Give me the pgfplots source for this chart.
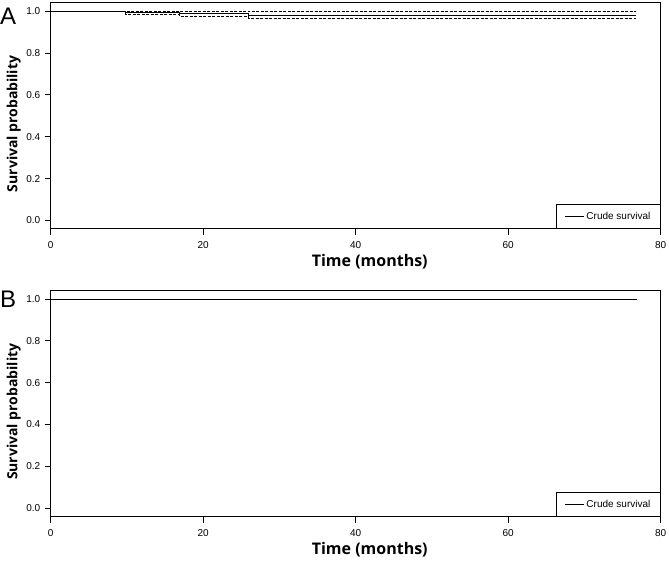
\documentclass[border=0pt]{standalone}
\usepackage{fontspec}
\setmainfont{Liberation Sans}
\newfontfamily\labfont{Open Sans}
\usepackage{pgfplots}
\pgfplotsset{compat=1.18}

\pgfplotsset{
  kmaxis/.style={
    scale only axis, width=610pt, height=226pt,
    xmin=0, xmax=80, ymin=-0.04, ymax=1.04,
    xtick={0,20,...,80}, ytick={0,0.2,...,1.0},
    yticklabel style={/pgf/number format/fixed,/pgf/number format/fixed zerofill,/pgf/number format/precision=1,xshift=-1pt},
    xticklabel style={yshift=-3pt},
    /pgf/number format/assume math mode=true,
    tick label style={font=\fontsize{10}{12}\selectfont},
    tick align=outside, major tick length=6pt,
    xtick pos=bottom, ytick pos=left,
    axis line style={black, line width=0.8pt},
    tick style={black, line width=0.8pt},
    xlabel={Time (months)}, ylabel={Survival probability},
    xlabel style={at={(axis description cs:0.523,-0.147)}, anchor=center,
      font=\labfont\bfseries\fontsize{16}{18}\selectfont},
    ylabel style={at={(axis description cs:-0.0607,0.464)}, anchor=center,
      font=\labfont\bfseries\fontsize{14}{16}\selectfont},
    legend style={at={(1,0)}, anchor=south east, draw=black, line width=0.6pt,
      font=\fontsize{10}{12}\selectfont, inner xsep=8pt, inner ysep=5.5pt,
      legend cell align=left},
    legend image code/.code={\draw[#1] (0pt,0pt) -- (19pt,0pt);},
  },
  km/.style={black, line width=0.7pt, no marks},
  ci/.style={black, line width=0.6pt, no marks, dash pattern=on 3pt off 1.5pt, forget plot},
}

\begin{document}
\begin{tikzpicture}
\useasboundingbox (0,0) rectangle (669pt,-561pt);

% panel A
\begin{axis}[kmaxis, at={(50.7pt,-228.8pt)}, anchor=south west]
\addplot[km] coordinates {(0,1) (9.8,1) (9.8,0.992) (16.9,0.992) (16.9,0.990) (25.9,0.990) (25.9,0.982) (76.8,0.982)};
\addlegendentry{Crude survival}
\addplot[ci] coordinates {(0,1) (9.8,1) (9.8,0.998) (16.9,0.998) (16.9,1.0) (25.9,1.0) (25.9,0.997) (76.8,0.997)};
\addplot[ci] coordinates {(0,1) (9.8,1) (9.8,0.984) (16.9,0.984) (16.9,0.976) (25.9,0.976) (25.9,0.968) (76.8,0.968)};
\end{axis}

% panel B
\begin{axis}[kmaxis, at={(50.7pt,-516.6pt)}, anchor=south west]
\addplot[km] coordinates {(0,1) (76.8,1)};
\addlegendentry{Crude survival}
\addplot[ci] coordinates {(0,1) (76.8,1)};
\end{axis}

\node[anchor=west, inner sep=0pt, font=\fontsize{24}{26}\selectfont] at (0pt,-16pt) {A};
\node[anchor=west, inner sep=0pt, font=\fontsize{24}{26}\selectfont] at (0pt,-299pt) {B};
\end{tikzpicture}
\end{document}
